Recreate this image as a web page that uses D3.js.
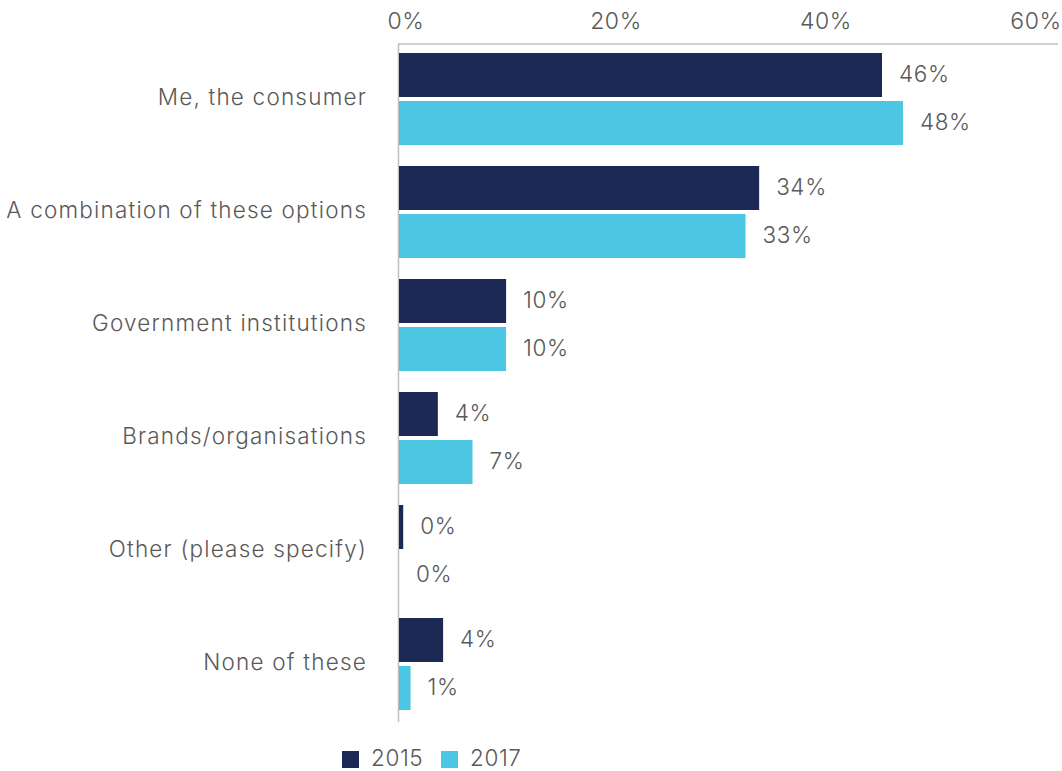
<!DOCTYPE html>
<html>
<head>
<meta charset="utf-8">
<script src="https://cdn.jsdelivr.net/npm/d3@7"></script>
<style>
  html, body { margin: 0; padding: 0; background: #fff; }
  svg text { font-family: Inter, "Noto Sans", sans-serif; fill: #595959; font-weight: 300; }
</style>
</head>
<body>
<svg id="chart" width="1062" height="771"></svg>
<script>
// Who is responsible: share of respondents by year
const categories = [
  "Me, the consumer",
  "A combination of these options",
  "Government institutions",
  "Brands/organisations",
  "Other (please specify)",
  "None of these"
];
const seriesNames = ["2015", "2017"];
const values2015 = [46.0, 34.3, 10.2, 3.7, 0.4, 4.2];
const values2017 = [48.0, 33.0, 10.2, 7.0, 0.0, 1.1];
const tickValues = [0, 20, 40, 60];
const colors = ["#1c2954", "#4dc6e3"];

const svg = d3.select("#chart");
const x0 = 399, x60 = 1029;
const plotTop = 44, plotBottom = 722;

const x = d3.scaleLinear().domain([0, 60]).range([x0, x60]);
const y = d3.scaleBand().domain(categories).range([plotTop, plotBottom]).paddingInner(0).paddingOuter(0);
const barH = 44, barGap = 4, bandOffset = 9;

const series = [values2015, values2017];

// axis lines
svg.append("line").attr("x1", x0 - 1).attr("x2", 1058).attr("y1", plotTop).attr("y2", plotTop)
  .attr("stroke", "#bfbfbf").attr("stroke-width", 1.5);
svg.append("line").attr("x1", x0 - 0.5).attr("x2", x0 - 0.5).attr("y1", plotTop).attr("y2", plotBottom)
  .attr("stroke", "#bfbfbf").attr("stroke-width", 1.5);

// top tick labels
svg.append("g").selectAll("text").data(tickValues).join("text")
  .attr("x", d => x(d) + 7)
  .attr("y", 29)
  .attr("text-anchor", "middle")
  .attr("font-size", 23)
  .attr("letter-spacing", 0.6)
  .text(d => d + "%");

// category labels
svg.append("g").selectAll("text").data(categories).join("text")
  .attr("x", 367)
  .attr("y", d => y(d) + bandOffset + barH + barGap / 2 - 2)
  .attr("dy", "0.35em")
  .attr("text-anchor", "end")
  .attr("font-size", 22.5)
  .attr("letter-spacing", 1.2)
  .text(d => d);

// bars and value labels
series.forEach((vals, si) => {
  const g = svg.append("g");
  const rows = categories.map((c, i) => ({ c, v: vals[i] }));
  g.selectAll("rect").data(rows).join("rect")
    .attr("x", x0)
    .attr("y", d => y(d.c) + bandOffset + si * (barH + barGap))
    .attr("width", d => x(d.v) - x0)
    .attr("height", barH)
    .attr("fill", colors[si]);
  g.selectAll("text").data(rows).join("text")
    .attr("x", d => x(d.v) + 17)
    .attr("y", d => y(d.c) + bandOffset + si * (barH + barGap) + barH / 2 - 1)
    .attr("dy", "0.35em")
    .attr("font-size", 22.5)
    .attr("letter-spacing", 0.6)
    .text(d => Math.round(d.v) + "%");
});

// legend
const legend = svg.append("g");
const legendX = [342, 441];
seriesNames.forEach((name, i) => {
  legend.append("rect").attr("x", legendX[i]).attr("y", 751).attr("width", 17).attr("height", 17)
    .attr("fill", colors[i]);
  legend.append("text").attr("x", legendX[i] + 29).attr("y", 766)
    .attr("font-size", 22.5).attr("letter-spacing", 0.6).text(name);
});
</script>
</body>
</html>
